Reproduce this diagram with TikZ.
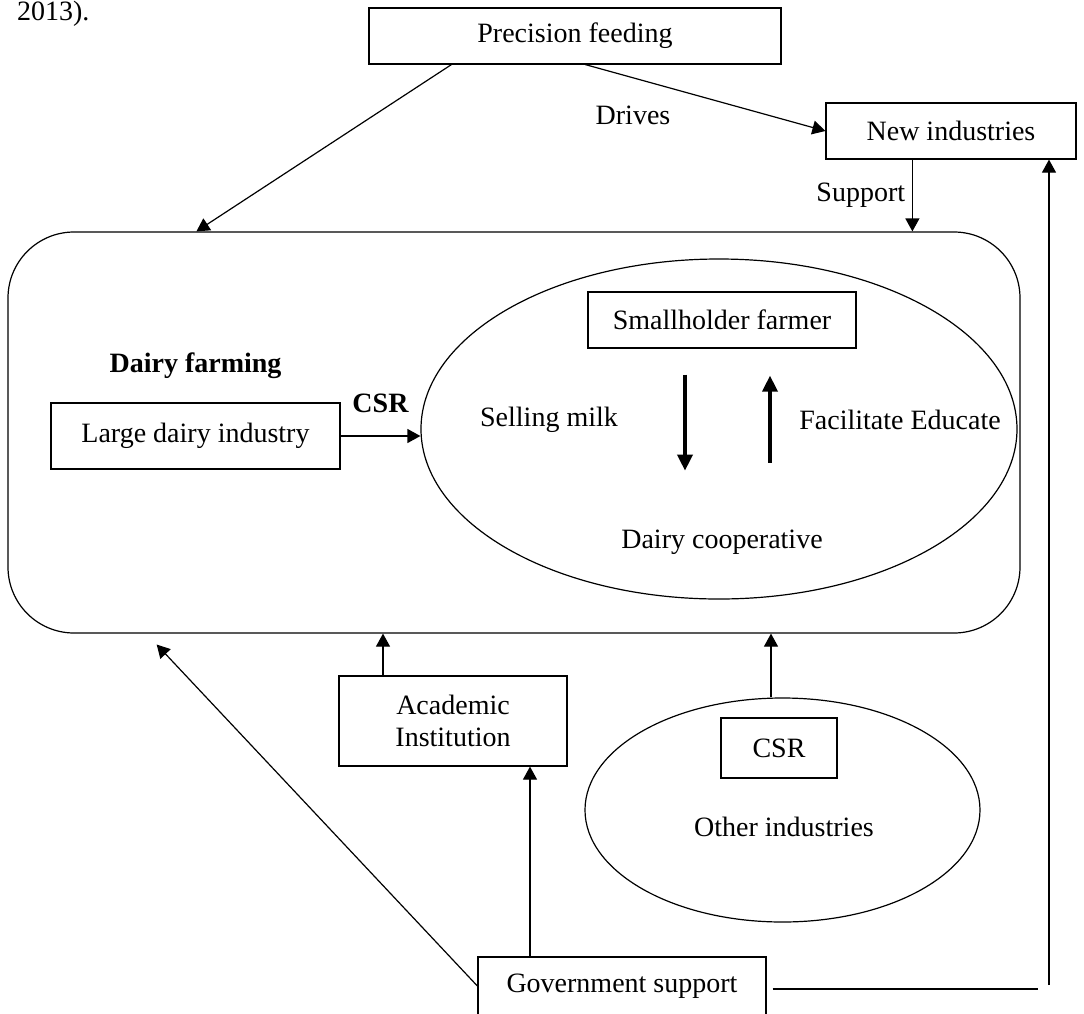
\documentclass[tikz,border=0pt]{standalone}
\usepackage{fontspec}
\setmainfont{Liberation Serif}
\usetikzlibrary{arrows.meta,positioning,calc,shapes.geometric}

\begin{document}
\begin{tikzpicture}[x=0.5pt,y=-0.5pt,>={Triangle[length=6.5pt,width=7pt]},
  every node/.style={font=\fontsize{14}{16}\selectfont},
  box/.style={draw,line width=0.6pt,inner sep=0pt},
  oval/.style={draw,ellipse,line width=0.6pt,inner sep=0pt},
  link/.style={->,line width=0.6pt},
  heavy/.style={-{Triangle[length=8pt,width=7.5pt]},line width=1.8pt}]
\useasboundingbox (0,0) rectangle (1084,1014);
\node[anchor=base west] (cite) at (10,20) {2013).};

\node[box,minimum width=206pt,minimum height=28pt] (prec) at (575,36) {Precision feeding};
\node[box,minimum width=125pt,minimum height=28pt] (new) at (951,131) {New industries};
\node (drives) at (633,115) {Drives};

\node[box,rounded corners=33pt,minimum width=506pt,minimum height=200.5pt] (farm) at (514,432.5) {};
\node[box,minimum width=144.5pt,minimum height=33pt] (large) at (195.5,436) {Large dairy industry};
\node[above=8.5pt of large,font=\fontsize{14}{16}\selectfont\bfseries] (farmlbl) {Dairy farming};
\node[oval,minimum width=298pt,minimum height=170pt] (coop) at (719,429) {};
\node[box,minimum width=134pt,minimum height=28pt] (farmer) at (722,320) {Smallholder farmer};
\node (sell) at (549,420) {Selling milk};
\node (educ) at (900,420) {Facilitate Educate};
\node (coopt) at (722,542) {Dairy cooperative};

\node[box,minimum width=114pt,minimum height=45pt,align=center] (acad) at (453,721) {Academic\\Institution};
\node[oval,minimum width=197.5pt,minimum height=112pt] (other) at (782.5,810) {};
\node[box,minimum width=58pt,minimum height=30pt] (csr) at (779,748) {CSR};
\node (othert) at (784,827) {Other industries};
\node[box,minimum width=144pt,minimum height=29pt] (gov) at (622,986) {Government support};

\draw[link] ($(prec.south west)+(83,0)$) -- ($(farm.north west)+(189,0)$);
\draw[link] ($(prec.south west)+(217,0)$) -- (new.west);
\draw[link] ($(new.south west)+(87,0)$) coordinate (s1) -- (s1 |- farm.north) node[midway,left] {Support};
\draw[link] (large.east) -- (large.east -| coop.west) node[midway,above=8pt,font=\fontsize{14}{16}\selectfont\bfseries] {CSR};
\coordinate (d1) at ($(farmer.south)+(-37,0)$); \coordinate (u1) at ($(farmer.south)+(48,0)$);
\draw[heavy,shorten <=13pt,shorten >=26pt] (d1) -- (d1 |- coopt.north);
\draw[heavy,shorten <=30pt,shorten >=13.5pt] (u1 |- coopt.north) -- (u1);

\draw[link] ($(acad.north)+(-70,0)$) coordinate (a1) -- (a1 |- farm.south);
\draw[link] ($(other.north)+(-11.5,0)$) coordinate (o1) -- (o1 |- farm.south);
\draw[link] ($(gov.north)+(-92,0)$) coordinate (g1) -- (g1 |- acad.south);
\draw[link,shorten >=7.5pt] (gov.west) -- ($(farm.south west)+(139,0)$);
\coordinate (g2) at (1038,989); \coordinate (n1) at (1049,985);
\draw[line width=0.6pt] ($(gov.east)+(6,3)$) -- (g2);
\draw[link] (n1) -- (n1 |- new.south);
\end{tikzpicture}
\end{document}
